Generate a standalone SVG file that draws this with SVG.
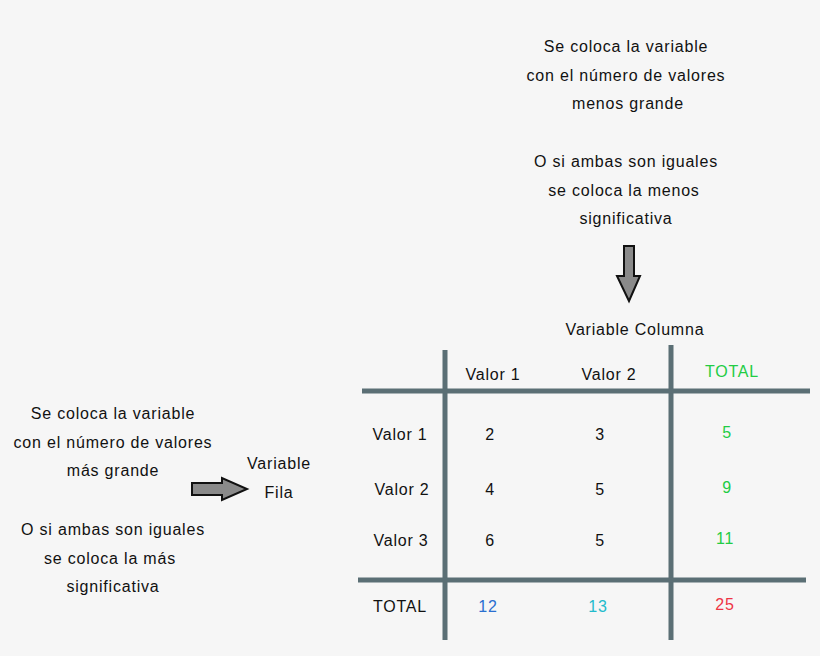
<svg xmlns="http://www.w3.org/2000/svg" width="820" height="656" viewBox="0 0 820 656">
<style>
text{font-family:"Liberation Sans",Arial,sans-serif;font-size:16px;letter-spacing:0.8px;fill:#111;text-anchor:middle}
.g{fill:#22cc44}.ln{stroke:#5b6f75;stroke-width:5}
.ar{fill:#8a8a8a;stroke:#111;stroke-width:2}
</style>
<rect width="820" height="656" fill="#f6f6f6"/>
<g id="note-top">
<text x="626" y="52">Se coloca la variable</text>
<text x="626" y="81">con el número de valores</text>
<text x="628" y="109">menos grande</text>
<text x="626" y="167">O si ambas son iguales</text>
<text x="624" y="196">se coloca la menos</text>
<text x="626" y="224">significativa</text>
</g>
<g id="note-left">
<text x="113" y="419">Se coloca la variable</text>
<text x="113" y="448">con el número de valores</text>
<text x="113" y="476">más grande</text>
<text x="113" y="535">O si ambas son iguales</text>
<text x="110" y="564">se coloca la más</text>
<text x="113" y="592">significativa</text>
</g>
<g id="var-fila"><text x="279" y="469">Variable</text><text x="279" y="498">Fila</text></g>
<g id="var-col"><text x="635" y="335">Variable Columna</text></g>
<g id="connectors">
<path class="ar" d="M624,246 H634 V276 H640 L629,301 L617,276 H624 Z"/>
<path class="ar" d="M192,483 H222 V478 L247,489 L222,500 V495 H192 Z"/>
</g>
<g id="table">
<line class="ln" x1="445" y1="350" x2="445" y2="640"/>
<line class="ln" x1="671" y1="345" x2="671" y2="640"/>
<line class="ln" x1="362" y1="391" x2="810" y2="391"/>
<line class="ln" x1="358" y1="580" x2="806" y2="580"/>
<text x="493" y="380">Valor 1</text><text x="609" y="380">Valor 2</text><text x="732" y="377" class="g">TOTAL</text>
<text x="400" y="440">Valor 1</text><text x="490" y="440">2</text><text x="600" y="440">3</text><text x="727" y="438" class="g">5</text>
<text x="402" y="495">Valor 2</text><text x="490" y="495">4</text><text x="600" y="495">5</text><text x="727" y="493" class="g">9</text>
<text x="401" y="546">Valor 3</text><text x="490" y="546">6</text><text x="600" y="546">5</text><text x="725" y="544" class="g">11</text>
<text x="400" y="612">TOTAL</text><text x="488" y="612" style="fill:#2a6fd0">12</text><text x="598" y="612" style="fill:#22bbcc">13</text><text x="725" y="610" style="fill:#ee3344">25</text>
</g>
</svg>
